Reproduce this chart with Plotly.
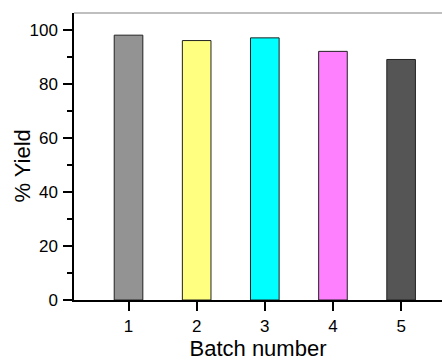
import plotly.graph_objects as go

batches = [1, 2, 3, 4, 5]
yields = [98, 96, 97, 92, 89]
colors = ["#939393", "#FFFF80", "#00FFFF", "#FF80FF", "#555555"]
x_title = "Batch number"
y_title = "% Yield"

fig = go.Figure(go.Bar(
    x=batches, y=yields, width=0.42,
    marker=dict(color=colors, line=dict(color="#222222", width=1)),
))

font = "Liberation Sans, Arial, sans-serif"
fig.update_layout(
    width=442, height=361,
    margin=dict(l=74, r=0, t=13, b=61, autoexpand=False),
    paper_bgcolor="white", plot_bgcolor="white",
    showlegend=False,
    font=dict(family=font, color="black"),
    xaxis=dict(
        range=[0.2, 5.6], tickvals=batches, ticks="outside", ticklen=9, tickwidth=1.5,
        tickcolor="black", showline=True, linecolor="black", linewidth=1.5,
        showgrid=False, zeroline=False, tickfont=dict(size=17), automargin=False,
        ticklabelstandoff=1,
        title=dict(text=x_title, font=dict(size=22), standoff=14),
    ),
    yaxis=dict(
        range=[0, 106.2], tickvals=[0, 20, 40, 60, 80, 100], ticks="outside", ticklen=9,
        tickwidth=1.5, tickcolor="black", showline=True, linecolor="black", linewidth=1.5,
        showgrid=False, zeroline=False, tickfont=dict(size=17), automargin=False,
        ticklabelstandoff=2,
        minor=dict(tickvals=[10, 30, 50, 70, 90], ticks="outside", ticklen=5, tickwidth=1.5, tickcolor="black"),
    ),
    annotations=[dict(text=y_title, textangle=-90, xref="paper", yref="paper",
                      x=0, xshift=-51, y=0.465, xanchor="center", yanchor="middle",
                      showarrow=False, font=dict(size=22))],
    shapes=[dict(type="line", xref="paper", yref="paper", x0=0, x1=1, y0=1, y1=1,
                 line=dict(color="#AAAAAA", width=1.5))],
)

fig.write_html("out.html", config={"displayModeBar": False},
               post_script="document.body.style.margin='0';")
